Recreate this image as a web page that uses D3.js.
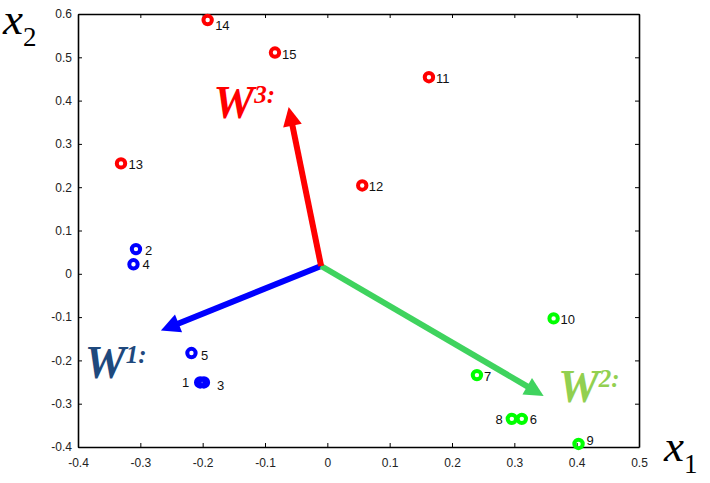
<!DOCTYPE html>
<html>
<head>
<meta charset="utf-8">
<script src="https://cdn.jsdelivr.net/npm/d3@7"></script>
<style>
  html, body { margin: 0; padding: 0; background: #fff; }
  svg { display: block; }
  .tick text { font-family: "Liberation Sans", Arial, sans-serif; font-size: 12px; fill: #222; }
</style>
</head>
<body>
<svg id="chart" width="710" height="483"></svg>
<script>
// Sample points: id, coordinates and class (1 = blue, 2 = green, 3 = red)
const pointIds = [1, 2, 3, 4, 5, 6, 7, 8, 9, 10, 11, 12, 13, 14, 15];
const pointX   = [-0.204, -0.307, -0.198, -0.311, -0.218, 0.312, 0.240, 0.296, 0.403, 0.363, 0.163, 0.056, -0.331, -0.192, -0.084];
const pointY   = [-0.251, 0.057, -0.251, 0.022, -0.183, -0.335, -0.234, -0.335, -0.393, -0.103, 0.454, 0.204, 0.255, 0.586, 0.511];
const pointCls = [1, 1, 1, 1, 1, 2, 2, 2, 2, 2, 3, 3, 3, 3, 3];

// Weight vectors W1, W2, W3 drawn as arrows from a common origin
const arrowOrigin = [-0.010, 0.018];
const arrowNames  = ["1", "2", "3"];
const arrowEndX   = [-0.267, 0.347, -0.062];
const arrowEndY   = [-0.131, -0.282, 0.385];

// Axis ticks
const xTicks = [-0.4, -0.3, -0.2, -0.1, 0, 0.1, 0.2, 0.3, 0.4, 0.5];
const yTicks = [-0.4, -0.3, -0.2, -0.1, 0, 0.1, 0.2, 0.3, 0.4, 0.5, 0.6];
const xTickLabels = ["-0.4", "-0.3", "-0.2", "-0.1", "0", "0.1", "0.2", "0.3", "0.4", "0.5"];
const yTickLabels = ["-0.4", "-0.3", "-0.2", "-0.1", "0", "0.1", "0.2", "0.3", "0.4", "0.5", "0.6"];

// ---- layout and styling ----
const margin = { left: 78, right: 71, top: 14, bottom: 36 };
const W = 710, H = 483;
const pointColor = { 1: "#0000ff", 2: "#00ff00", 3: "#ff0000" };
const arrowColor = ["#0000ff", "#3fd35e", "#ff0000"];
const arrowTextColor = ["#1f497d", "#92d050", "#ff0000"];
// anchor (data units) of each W label
const arrowTextAt = [[-0.389, -0.240], [0.370, -0.296], [-0.183, 0.360]];
// label offsets in px: [dx, dy, anchor]
const labelOffset = {
  1: [-11, 5, "end"], 2: [9, 6, "start"], 3: [13, 8, "start"], 4: [9, 5, "start"],
  5: [9.5, 7, "start"], 6: [8, 5, "start"], 7: [7, 5.5, "start"], 8: [-9, 5, "end"],
  9: [8, 1, "start"], 10: [7, 5.5, "start"], 11: [7, 6, "start"], 12: [6.5, 6, "start"],
  13: [7.5, 6, "start"], 14: [7.5, 10, "start"], 15: [7, 6, "start"]
};

const svg = d3.select("#chart");
const x = d3.scaleLinear().domain([-0.4, 0.5]).range([margin.left, W - margin.right]);
const y = d3.scaleLinear().domain([-0.4, 0.6]).range([H - margin.bottom, margin.top]);

// Axes (ticks pointing inward on all four sides)
const fmtX = (d, i) => xTickLabels[i];
const fmtY = (d, i) => yTickLabels[i];
const axes = [
  svg.append("g").attr("transform", `translate(0,${y(-0.4)})`)
     .call(d3.axisBottom(x).tickValues(xTicks).tickFormat(fmtX).tickSizeInner(-4).tickSizeOuter(0).tickPadding(11)),
  svg.append("g").attr("transform", `translate(${x(-0.4)},0)`)
     .call(d3.axisLeft(y).tickValues(yTicks).tickFormat(fmtY).tickSizeInner(-4).tickSizeOuter(0).tickPadding(6)),
  svg.append("g").attr("transform", `translate(0,${y(0.6)})`)
     .call(d3.axisTop(x).tickValues(xTicks).tickFormat("").tickSizeInner(-4).tickSizeOuter(0)),
  svg.append("g").attr("transform", `translate(${x(0.5)},0)`)
     .call(d3.axisRight(y).tickValues(yTicks).tickFormat("").tickSizeInner(-4).tickSizeOuter(0))
];
axes.forEach(g => {
  g.select(".domain").attr("stroke", "#000").attr("stroke-width", 1.6);
  g.selectAll(".tick line").attr("stroke", "#000").attr("stroke-width", 1);
});

// Arrows
const ax0 = x(arrowOrigin[0]), ay0 = y(arrowOrigin[1]);
const headLen = 19, headHalf = 9.5;
arrowNames.forEach((name, i) => {
  const tx = x(arrowEndX[i]), ty = y(arrowEndY[i]);
  const dx = tx - ax0, dy = ty - ay0, L = Math.hypot(dx, dy);
  const ux = dx / L, uy = dy / L;
  const bx = tx - ux * headLen, by = ty - uy * headLen;
  svg.append("line")
    .attr("x1", ax0).attr("y1", ay0)
    .attr("x2", bx + ux * 2).attr("y2", by + uy * 2)
    .attr("stroke", arrowColor[i]).attr("stroke-width", 6);
  svg.append("polygon")
    .attr("points", [[tx, ty], [bx - uy * headHalf, by + ux * headHalf], [bx + uy * headHalf, by - ux * headHalf]].map(p => p.join(",")).join(" "))
    .attr("fill", arrowColor[i]);
});

// Data points: thick ring markers
const pts = pointIds.map((id, i) => ({ id, x: pointX[i], y: pointY[i], c: pointCls[i] }));
svg.append("g").selectAll("circle").data(pts).join("circle")
  .attr("cx", d => x(d.x)).attr("cy", d => y(d.y)).attr("r", 4.2)
  .attr("fill", "none").attr("stroke", d => pointColor[d.c]).attr("stroke-width", 4);

svg.append("g").selectAll("text").data(pts).join("text")
  .attr("x", d => x(d.x) + labelOffset[d.id][0])
  .attr("y", d => y(d.y) + labelOffset[d.id][1])
  .attr("text-anchor", d => labelOffset[d.id][2])
  .attr("font-family", "Liberation Sans, Arial, sans-serif")
  .attr("font-size", 13).attr("fill", "#111")
  .text(d => d.id);

// W labels
arrowNames.forEach((name, i) => {
  const t = svg.append("text")
    .attr("x", x(arrowTextAt[i][0])).attr("y", y(arrowTextAt[i][1]))
    .attr("font-family", "Liberation Serif, Times New Roman, serif")
    .attr("font-weight", "bold").attr("font-style", "italic")
    .attr("font-size", 46).attr("fill", arrowTextColor[i]);
  t.append("tspan").text("W");
  t.append("tspan").attr("font-size", 25).attr("dy", -15).text(name + ":");
});

// Axis titles
function axisTitle(px, py, sub) {
  const t = svg.append("text").attr("x", px).attr("y", py)
    .attr("font-family", "Liberation Serif, Times New Roman, serif").attr("fill", "#000");
  t.append("tspan").attr("font-style", "italic").attr("font-size", 45).text("x");
  t.append("tspan").attr("font-size", 27).attr("dy", 12).text(sub);
}
axisTitle(3, 34, "2");
axisTitle(664, 461, "1");
</script>
</body>
</html>
